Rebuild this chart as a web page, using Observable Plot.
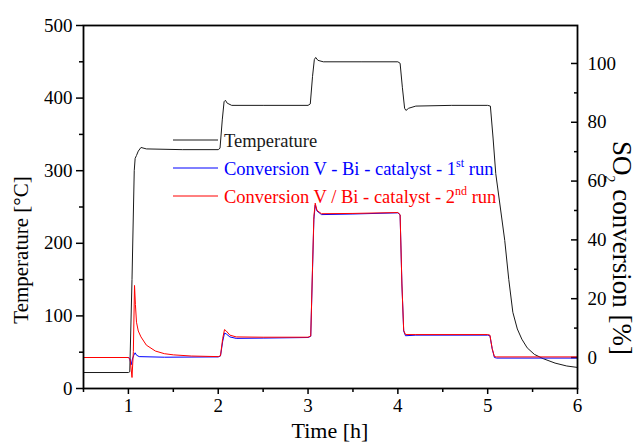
<!DOCTYPE html>
<html><head><meta charset="utf-8">
<script src="https://cdn.jsdelivr.net/npm/d3@7"></script>
<script src="https://cdn.jsdelivr.net/npm/@observablehq/plot@0.6"></script>
<style>body{margin:0;background:#fff} svg{display:block}</style>
</head><body><div id="chart"></div>
<script>
// ---- tick labels ----
const xMajorTicks = [1, 2, 3, 4, 5, 6];
const xMinorTicks = [0.5, 1.5, 2.5, 3.5, 4.5, 5.5];
const tempMajorTicks = [0, 100, 200, 300, 400, 500];
const tempMinorTicks = [50, 150, 250, 350, 450];
const convMajorTicks = [0, 20, 40, 60, 80, 100];
const convMinorTicks = [10, 30, 50, 70, 90];

// ---- Temperature [°C] ----
const tempTime   = [0.5, 1.0, 1.015, 1.04, 1.065, 1.075, 1.09, 1.11, 1.14, 1.2, 1.6, 2.0, 2.02, 2.045, 2.065, 2.08, 2.1, 2.15, 2.5, 3.0, 3.025, 3.05, 3.07, 3.085, 3.11, 3.17, 3.6, 4.0, 4.025, 4.05, 4.075, 4.09, 4.12, 4.2, 4.6, 5.0, 5.03, 5.06, 5.09, 5.14, 5.19, 5.235, 5.28, 5.33, 5.38, 5.44, 5.52, 5.62, 5.75, 5.88, 6.0];
const tempValues = [22, 22, 23, 150, 300, 317, 321, 327, 332, 330, 329, 329, 331, 370, 395, 397, 393, 390, 390, 390, 392, 430, 453, 456, 452, 450, 450, 450, 448, 415, 386, 383, 386, 389, 390, 390, 389, 345, 296, 250, 204, 150, 105, 82, 68, 56, 47, 41, 35, 31, 29];

// ---- SO2 conversion [%], 1st run ----
const run1Time   = [0.5, 1.0, 1.015, 1.03, 1.045, 1.06, 1.075, 1.09, 1.12, 1.4, 2.0, 2.025, 2.05, 2.07, 2.09, 2.13, 2.2, 2.5, 3.0, 3.03, 3.05, 3.065, 3.08, 3.1, 3.15, 3.5, 4.0, 4.025, 4.045, 4.065, 4.085, 4.2, 5.0, 5.025, 5.05, 5.075, 5.1, 6.0];
const run1Values = [0, 0, -0.3, -2.5, -0.5, 0.8, 1.6, 0.8, 0.3, 0.1, 0.2, 0.5, 5.5, 8.3, 8.0, 7.0, 6.5, 6.6, 6.8, 7.2, 30, 47, 51.8, 49.8, 48.6, 48.8, 49.2, 48.5, 25, 9, 7.4, 7.6, 7.6, 7.4, 3, 0, -0.2, -0.2];

// ---- SO2 conversion [%], 2nd run ----
const run2Time   = [0.5, 1.0, 1.02, 1.04, 1.055, 1.068, 1.078, 1.09, 1.11, 1.14, 1.2, 1.3, 1.4, 1.5, 1.7, 2.0, 2.025, 2.05, 2.07, 2.09, 2.13, 2.2, 2.5, 3.0, 3.03, 3.05, 3.065, 3.08, 3.1, 3.15, 3.5, 4.0, 4.025, 4.045, 4.065, 4.085, 4.2, 5.0, 5.025, 5.05, 5.075, 5.1, 6.0];
const run2Values = [0, 0, -0.8, -6.8, 2, 24.5, 18, 12, 9, 7, 4.2, 2.2, 1.3, 0.9, 0.5, 0.3, 0.6, 6.5, 9.5, 9.0, 7.6, 7.0, 6.9, 6.9, 7.3, 31, 48, 52.5, 50, 48.9, 49, 49.3, 48.6, 25, 9.2, 7.8, 7.8, 7.8, 7.6, 3, 0.3, 0.2, 0.2];

const seriesColors = ["#1a1a1a", "#0000ff", "#ff0000"];

// right axis: conversion (%) expressed in temperature units of the left scale
const convOffset = 42.7, convFactor = 4.05;
const convToTemp = c => convOffset + convFactor * c;
const tempToConv = t => Math.round((t - convOffset) / convFactor);

const tempData = tempTime.map((t, i) => ({t, v: tempValues[i]}));
const run1Data = run1Time.map((t, i) => ({t, v: convToTemp(run1Values[i])}));
const run2Data = run2Time.map((t, i) => ({t, v: convToTemp(run2Values[i])}));

const font = "Liberation Serif";

const plot = Plot.plot({
  width: 637, height: 442,
  marginLeft: 83, marginRight: 60, marginTop: 25, marginBottom: 54,
  style: {fontFamily: font, fontSize: "19px", background: "#fff", color: "#000", overflow: "visible"},
  x: {domain: [0.5, 6], label: null},
  y: {domain: [0, 500], label: null},
  marks: [
    Plot.axisX({ticks: xMajorTicks, tickSize: 6, tickPadding: 4, tickFormat: d => String(d), strokeWidth: 1.5, label: null}),
    Plot.axisX({ticks: xMinorTicks, tickSize: 4, tickFormat: () => "", strokeWidth: 1.5, label: null}),
    Plot.axisY({ticks: tempMajorTicks, tickSize: 7, tickPadding: 4, tickFormat: d => String(d), strokeWidth: 1.5, label: null}),
    Plot.axisY({ticks: tempMinorTicks, tickSize: 4, tickFormat: () => "", strokeWidth: 1.5, label: null}),
    Plot.axisY({anchor: "right", ticks: convMajorTicks.map(convToTemp), tickSize: -7, tickPadding: 17,
                tickFormat: tempToConv, strokeWidth: 1.5, label: null}),
    Plot.axisY({anchor: "right", ticks: convMinorTicks.map(convToTemp), tickSize: -4, tickPadding: 17,
                tickFormat: () => "", strokeWidth: 1.5, label: null}),
    Plot.line(tempData, {x: "t", y: "v", stroke: seriesColors[0], strokeWidth: 1}),
    Plot.line(run1Data, {x: "t", y: "v", stroke: seriesColors[1], strokeWidth: 1}),
    Plot.line(run2Data, {x: "t", y: "v", stroke: seriesColors[2], strokeWidth: 1}),
    Plot.frame({stroke: "#000", strokeWidth: 1.8})
  ]
});
document.getElementById("chart").appendChild(plot);

const svg = d3.select(plot);
// axis titles
svg.append("text").attr("transform", "translate(28,250) rotate(-90)")
  .attr("text-anchor", "middle").attr("font-size", 21)
  .attr("fill", "#000").text("Temperature [°C]");
svg.append("text").attr("x", 330).attr("y", 438)
  .attr("text-anchor", "middle").attr("font-size", 22)
  .attr("fill", "#000").text("Time [h]");
const rt = svg.append("text").attr("transform", "translate(613,248) rotate(90)")
  .attr("text-anchor", "middle").attr("font-size", 27).attr("fill", "#000");
rt.append("tspan").text("SO");
rt.append("tspan").attr("font-size", 14).attr("dy", 8).text("2");
rt.append("tspan").attr("dy", -8).text(" conversion [%]");

// legend
const legendRows = [
  {color: seriesColors[0], parts: [["Temperature", 0]]},
  {color: seriesColors[1], parts: [["Conversion V - Bi - catalyst - 1", 0], ["st", 1], [" run", 0]]},
  {color: seriesColors[2], parts: [["Conversion V / Bi - catalyst - 2", 0], ["nd", 1], [" run", 0]]}
];
legendRows.forEach((row, i) => {
  const cy = 140 + i * 28;
  svg.append("line").attr("x1", 173).attr("x2", 218).attr("y1", cy).attr("y2", cy)
    .attr("stroke", row.color).attr("stroke-width", 1);
  const tx = svg.append("text").attr("x", 224).attr("y", cy + 7).attr("text-anchor", "start")
    .attr("font-size", 18.5).attr("fill", row.color);
  let raised = false;
  row.parts.forEach(([s, sup]) => {
    const ts = tx.append("tspan").text(s);
    if (sup) { ts.attr("font-size", 12).attr("dy", -8); raised = true; }
    else if (raised) { ts.attr("dy", 8); raised = false; }
  });
});
// serif font on every text, including the axis tick labels
svg.selectAll("text").attr("font-family", font).style("font-family", font).style("font-variant", "normal");
</script>
</body></html>
